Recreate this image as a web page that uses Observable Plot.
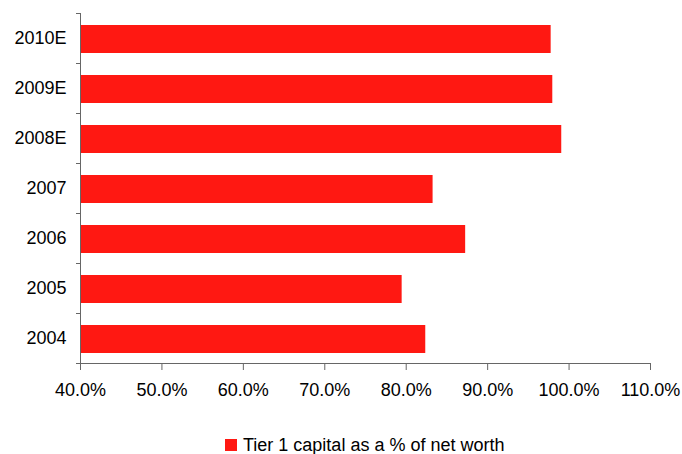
<!DOCTYPE html>
<html>
<head>
<meta charset="utf-8">
<script src="https://cdn.jsdelivr.net/npm/d3@7"></script>
<script src="https://cdn.jsdelivr.net/npm/@observablehq/plot@0.6"></script>
<style>
  html, body { margin: 0; padding: 0; background: #fff; }
  #wrap { position: relative; width: 682px; height: 454px; font-family: "Liberation Sans", Arial, sans-serif; }
  #legend-sw { position: absolute; left: 225px; top: 439px; width: 12px; height: 12px; background: #ff1812; }
  #legend-tx { position: absolute; left: 243px; top: 436px; font-size: 18px; line-height: 18px; color: #000; white-space: nowrap; }
</style>
</head>
<body>
<div id="wrap"><div id="chart"></div><div id="legend-sw"></div><div id="legend-tx"></div></div>
<script>
const years = ["2004", "2005", "2006", "2007", "2008E", "2009E", "2010E"];
const values = [82.4, 79.5, 87.3, 83.3, 99.1, 98.0, 97.8];
const xTicks = [40, 50, 60, 70, 80, 90, 100, 110];
const seriesName = "Tier 1 capital as a % of net worth";

document.getElementById("legend-tx").textContent = seriesName;
const data = years.map((y, i) => ({year: y, value: values[i]}));
const axisColor = "#666";

const chart = Plot.plot({
  width: 682,
  height: 410,
  marginTop: 13,
  marginBottom: 47,
  marginLeft: 80,
  marginRight: 32,
  style: {fontFamily: "Liberation Sans, Arial, sans-serif", fontSize: "18px", color: "#000", background: "#fff"},
  x: {domain: [40, 110]},
  y: {domain: years.slice().reverse(), paddingInner: 0.44, paddingOuter: 0.22},
  marks: [
    Plot.barX(data, {x1: 40, x2: "value", y: "year", fill: "#ff1812", insetTop: 1, insetBottom: -1}),
    Plot.axisX({ticks: xTicks, tickFormat: d => d.toFixed(1) + "%", tickSize: 7, tickPadding: 13, stroke: axisColor, fill: "#000", label: null}),
    Plot.axisY({tickSize: 0, tickPadding: 14, label: null, fill: "#000"}),
    Plot.axisY({tickSize: 4, text: null, dy: -25, stroke: axisColor, label: null}),
    Plot.axisY({ticks: ["2004"], tickSize: 4, text: null, dy: 25, stroke: axisColor, label: null}),
    Plot.frame({anchor: "left", stroke: axisColor}),
    Plot.frame({anchor: "bottom", stroke: axisColor})
  ]
});
document.getElementById("chart").appendChild(chart);
</script>
</body>
</html>
